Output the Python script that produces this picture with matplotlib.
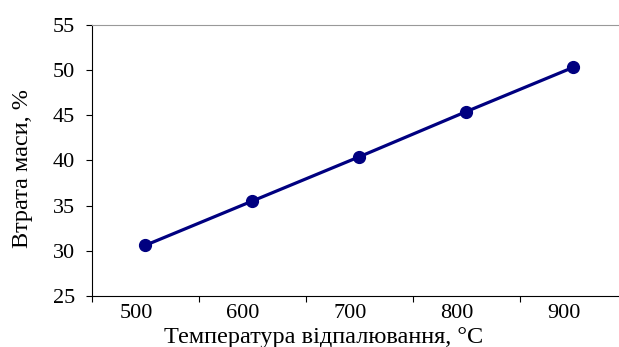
import numpy as np
import matplotlib.pyplot as plt
from matplotlib.transforms import ScaledTranslation

# Data
temperature = [500, 600, 700, 800, 900]
mass_loss = [30.6, 35.5, 40.4, 45.4, 50.3]
x_ticks = [500, 600, 700, 800, 900]
y_ticks = [25, 30, 35, 40, 45, 50, 55]

plt.rcParams['font.family'] = ['Liberation Serif', 'DejaVu Serif']

fig = plt.figure(figsize=(6.19, 3.47), dpi=100)
ax = fig.add_axes([0.148, 0.147, 0.852, 0.781])

ax.plot(temperature, mass_loss, color='#000080', linewidth=2.3, marker='o',
        markersize=8.5, markerfacecolor='#000080', markeredgecolor='#000080')

ax.set_xlim(450, 943)
ax.set_ylim(25, 55)
ax.set_yticks(y_ticks)
ax.set_xticks(x_ticks)
ax.set_xticks(np.arange(450, 950, 100), minor=True)

ax.tick_params(axis='x', which='major', length=0, labelsize=16, pad=6)
ax.tick_params(axis='x', which='minor', length=4, direction='out', width=0.8)
ax.tick_params(axis='y', length=4, direction='out', width=0.8, labelsize=16, pad=8)

# Excel-style label shift to the left of the category centres
offset = ScaledTranslation(-0.09, 0, fig.dpi_scale_trans)
for lbl in ax.get_xticklabels():
    lbl.set_transform(lbl.get_transform() + offset)

ax.spines['right'].set_visible(False)
ax.spines['top'].set_color('#999999')
ax.spines['left'].set_linewidth(0.8)
ax.spines['bottom'].set_linewidth(0.8)

ax.set_xlabel('Температура відпалювання, °C', fontsize=17.5)
ax.set_ylabel('Втрата маси, %', fontsize=17.5)
ax.xaxis.set_label_coords(0.44, -0.115)
ax.yaxis.set_label_coords(-0.112, 0.47)

plt.savefig('out.png', dpi=100)
plt.close()
